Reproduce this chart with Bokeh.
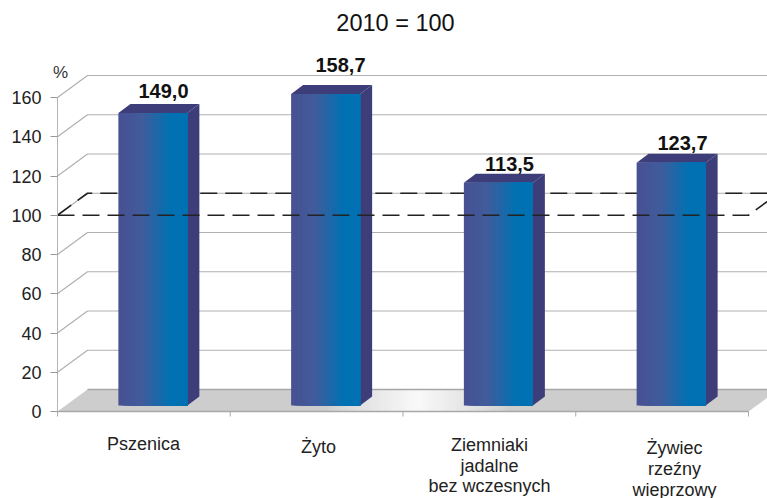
from bokeh.plotting import figure
from bokeh.models import FixedTicker
from bokeh.core.properties import value
from bokeh.embed import file_html
from bokeh.resources import INLINE

title_text = "2010 = 100"
unit = "%"
categories = [["Pszenica"], ["Żyto"], ["Ziemniaki", "jadalne", "bez wczesnych"], ["Żywiec", "rzeźny", "wieprzowy"]]
values = [149.0, 158.7, 113.5, 123.7]
value_labels = ["149,0", "158,7", "113,5", "123,7"]
y_ticks = [0, 20, 40, 60, 80, 100, 120, 140, 160]
x_ticks = [0, 1, 2, 3, 4]
reference_level = 100

PX_X = 172.75
PX_Y = 1.9625
W, H = 767, 498
X0, Y0 = 57, 411                       # pixel position of the origin
FONT = value("Liberation Sans")
DX, DY = 30 / PX_X, 22 / PX_Y          # wall depth
def mix(a, b, t):
    return "#%02x%02x%02x" % tuple(round(a[i] + (b[i] - a[i]) * t) for i in range(3))
def px_x(x):
    return (x - X0) / PX_X
def px_y(y):
    return (Y0 - y) / PX_Y

p = figure(width=W, height=H, output_backend="svg", toolbar_location=None,
           x_range=(px_x(0), px_x(W)), y_range=(px_y(H), px_y(0)),
           frame_width=W, frame_height=H, x_axis_location=None,
           min_border_left=0, min_border_right=0, min_border_top=0, min_border_bottom=0,
           background_fill_color="white", border_fill_color="white")
p.outline_line_color = None
p.grid.visible = False

ya = p.yaxis[0]
ya.fixed_location = 0
ya.ticker = FixedTicker(ticks=y_ticks)
ya.bounds = (0, 160)
ya.axis_line_color = "#b5b5b5"
ya.major_tick_line_color = "#999999"
ya.major_tick_in = 0
ya.major_tick_out = 7
ya.minor_tick_line_color = None
ya.major_label_text_font = "Liberation Sans"
ya.major_label_text_font_size = "18px"
ya.major_label_text_color = "#222222"
ya.major_label_standoff = 9

# floor with a soft highlight: concentric strips, widest first
p.patch([0, 4, 4 + DX, DX], [0, 0, DY, DY], fill_color="#cdcdcd", line_color=None)
hl_centre = px_x(417)
steps = 30
for i in range(steps):
    t = i / steps
    half = (1 - t) * 90 / PX_X
    col = mix((205, 205, 205), (248, 248, 248), (t + 1 / steps) ** 0.8)
    p.quad(left=hl_centre - half, right=hl_centre + half, bottom=0, top=DY, fill_color=col, line_color=None)
p.line([DX, 4 + DX], [DY, DY], line_color="#a6a6a6", line_width=1.5)
p.line([0, 4], [0, 0], line_color="#a8a8a8", line_width=1.5)
p.segment(x0=x_ticks, x1=x_ticks, y0=[0] * 5, y1=[px_y(Y0 + 5)] * 5, line_color="#a8a8a8", line_width=1)

# walls
for t in y_ticks[1:]:
    p.line([0, DX, 4 + DX], [t, t + DY, t + DY], line_color="#b0b0b0", line_width=1.2)

# dashed level, back part
p.line([0, DX, 4 + DX], [reference_level, reference_level + DY, reference_level + DY],
       line_color="#222222", line_width=1.6, line_dash="17 8")

# bars
BW = 69 / PX_X
OFF_X, OFF_Y = 9 / PX_X, 6 / PX_Y
SX, SY = 12 / PX_X, 9 / PX_Y
dark = "#3d3d7a"
N = 24
for i, v in enumerate(values):
    x0 = i + 0.5 + OFF_X - BW / 2
    x1 = x0 + BW
    top = OFF_Y + v
    p.patch([x1, x1 + SX, x1 + SX, x1], [OFF_Y, OFF_Y + SY, top + SY, top], fill_color=dark, line_color=None)
    p.patch([x0, x1, x1 + SX, x0 + SX], [top, top, top + SY, top + SY], fill_color=dark, line_color=None)
    for k in range(N):
        t = (k + 0.5) / N
        if t < 0.35:
            col = mix((71, 80, 146), (64, 92, 156), t / 0.35)
        elif t < 0.75:
            col = mix((64, 92, 156), (0, 113, 178), (t - 0.35) / 0.4)
        else:
            col = "#0071b2"
        p.quad(left=x0 + BW * k / N, right=x1, bottom=OFF_Y, top=top, fill_color=col, line_color=None)

# dashed level, front part
p.line([0, 4, 4 + DX], [reference_level, reference_level, reference_level + DY],
       line_color="#222222", line_width=1.6, line_dash="17 8")

# value labels
val_px_x = [163, 340, 509, 682]
val_px_y = [90, 64, 163, 142]
p.text(x=[px_x(a) for a in val_px_x], y=[px_y(a) for a in val_px_y], text=value_labels,
       text_font=FONT, text_font_style="bold", text_font_size="20px", text_color="#111111",
       text_align="center", text_baseline="middle")

# category labels
lab_x = [143, 318, 489, 674]
lab_y = [[443], [446], [444, 465, 485], [447, 468, 489]]
for i, lines in enumerate(categories):
    p.text(x=[px_x(lab_x[i])] * len(lines), y=[px_y(a) for a in lab_y[i]], text=lines,
           text_font=FONT, text_font_size="18px", text_color="#222222",
           text_align="center", text_baseline="middle")

p.text(x=[px_x(395)], y=[px_y(22)], text=[title_text], text_font=FONT, text_font_size="23.5px",
       text_color="#111111", text_align="center", text_baseline="middle")
p.text(x=[px_x(60)], y=[px_y(72)], text=[unit], text_font=FONT, text_font_size="17px",
       text_color="#333333", text_align="center", text_baseline="middle")

open("out.html", "w").write(file_html(p, INLINE))
